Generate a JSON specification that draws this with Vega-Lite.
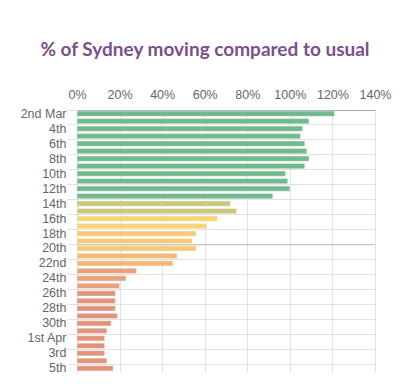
{
  "$schema": "https://vega.github.io/schema/vega-lite/v6.json",
  "width": 298,
  "height": 262,
  "autosize": {"type": "none"},
  "padding": {"left": 77, "top": 110, "right": 31, "bottom": 19},
  "background": "white",
  "title": {"text": "% of Sydney moving compared to usual", "font": "Lato", "fontSize": 19, "fontWeight": "bold", "color": "#7b4f8b", "anchor": "middle", "frame": "group", "dx": -21, "offset": 28},
  "config": {
    "view": {"stroke": null},
    "axis": {"labelFont": "Liberation Sans", "labelFontSize": 12, "labelColor": "#666"}
  },
  "data": {"values": [
    {"date": "2nd Mar", "pct": 121},
    {"date": "3rd Mar", "pct": 109},
    {"date": "4th Mar", "pct": 106},
    {"date": "5th Mar", "pct": 105},
    {"date": "6th Mar", "pct": 107},
    {"date": "7th Mar", "pct": 108},
    {"date": "8th Mar", "pct": 109},
    {"date": "9th Mar", "pct": 107},
    {"date": "10th Mar", "pct": 98},
    {"date": "11th Mar", "pct": 99},
    {"date": "12th Mar", "pct": 100},
    {"date": "13th Mar", "pct": 92},
    {"date": "14th Mar", "pct": 72},
    {"date": "15th Mar", "pct": 75},
    {"date": "16th Mar", "pct": 66},
    {"date": "17th Mar", "pct": 61},
    {"date": "18th Mar", "pct": 56},
    {"date": "19th Mar", "pct": 54},
    {"date": "20th Mar", "pct": 56},
    {"date": "21st Mar", "pct": 47},
    {"date": "22nd Mar", "pct": 45},
    {"date": "23rd Mar", "pct": 28},
    {"date": "24th Mar", "pct": 23},
    {"date": "25th Mar", "pct": 20},
    {"date": "26th Mar", "pct": 18},
    {"date": "27th Mar", "pct": 18},
    {"date": "28th Mar", "pct": 18},
    {"date": "29th Mar", "pct": 19},
    {"date": "30th Mar", "pct": 16},
    {"date": "31st Mar", "pct": 14},
    {"date": "1st Apr", "pct": 13},
    {"date": "2nd Apr", "pct": 13},
    {"date": "3rd Apr", "pct": 13},
    {"date": "4th Apr", "pct": 14},
    {"date": "5th Apr", "pct": 17}
  ]},
  "layer": [
    {
      "mark": {"type": "bar", "stroke": "white", "strokeOpacity": 0.4, "strokeWidth": 1},
      "encoding": {
        "y": {
          "field": "date", "type": "nominal", "sort": null,
          "scale": {"paddingInner": 0.3, "paddingOuter": 0.15},
          "axis": {
            "title": null,
            "values": ["2nd Mar", "4th Mar", "6th Mar", "8th Mar", "10th Mar", "12th Mar", "14th Mar", "16th Mar", "18th Mar", "20th Mar", "22nd Mar", "24th Mar", "26th Mar", "28th Mar", "30th Mar", "1st Apr", "3rd Apr", "5th Apr"],
            "labelExpr": "datum.value == '2nd Mar' || datum.value == '1st Apr' ? datum.value : replace(replace(datum.value, ' Mar', ''), ' Apr', '')",
            "bandPosition": -0.214,
            "grid": true, "gridColor": "#e2e2e2",
            "tickSize": 10, "tickColor": "#e2e2e2",
            "domainColor": "#cfcfcf",
            "labelPadding": 1,
            "labelOverlap": false,
            "labelFontSize": 12.5
          }
        },
        "x": {
          "field": "pct", "type": "quantitative",
          "scale": {"domain": [0, 140]},
          "axis": {
            "orient": "top", "title": null,
            "values": [0, 20, 40, 60, 80, 100, 120, 140],
            "labelExpr": "datum.value + '%'",
            "grid": true, "gridColor": "#e2e2e2",
            "ticks": false, "labelPadding": 9,
            "labelOverlap": false, "labelFlush": false,
            "domainColor": "#aaaaaa",
            "labelFontSize": 12.5
          }
        },
        "color": {
          "field": "pct", "type": "quantitative",
          "scale": {"type": "threshold", "domain": [20, 40, 50, 60, 70, 80], "range": ["#e1937b", "#e7a27b", "#f0ba76", "#f5c979", "#f6d57a", "#c7c97f", "#72b98e"]},
          "legend": null
        }
      }
    },
    {
      "transform": [{"filter": "datum.date == '20th Mar'"}],
      "mark": {"type": "rule", "color": "#bdbdbd", "strokeWidth": 1},
      "encoding": {
        "y": {"field": "date", "type": "nominal", "sort": null, "bandPosition": -0.214}
      }
    }
  ]
}
